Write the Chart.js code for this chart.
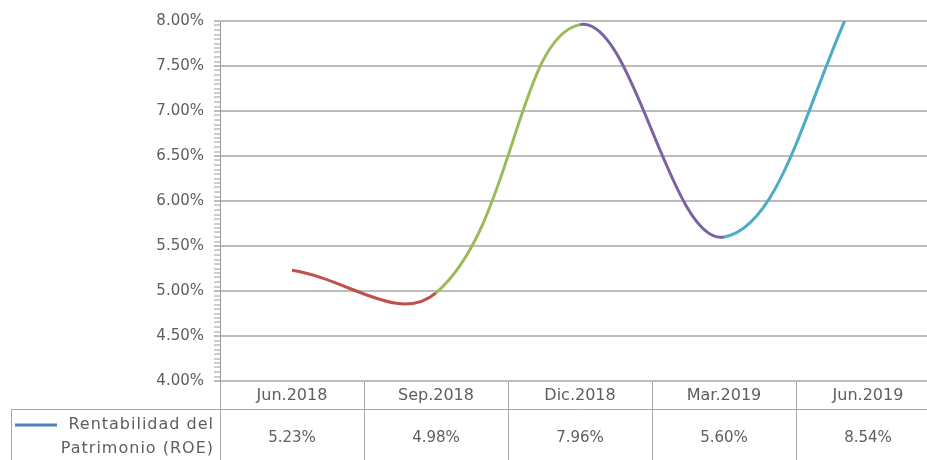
<!DOCTYPE html>
<html>
<head>
<meta charset="utf-8">
<script src="https://cdn.jsdelivr.net/npm/chart.js@4/dist/chart.umd.min.js"></script>
<style>
  html, body { margin: 0; padding: 0; background: #fff; overflow: hidden; }
  #wrap { position: relative; width: 940px; height: 460px; }
</style>
</head>
<body>
<div id="wrap"><canvas id="c"></canvas></div>
<script>
// ---- data ----
const categories = ['Jun.2018', 'Sep.2018', 'Dic.2018', 'Mar.2019', 'Jun.2019'];
const roeValues = [5.23, 4.98, 7.96, 5.60, 8.54];
const seriesLabel = ['Rentabilidad del', 'Patrimonio (ROE)'];
const yMin = 4.0;
const yMax = 8.0;
const yStep = 0.5;
const yMinorStep = 0.05;
const valueLabels = roeValues.map(v => v.toFixed(2) + '%');

// ---- styles ----
const segmentColors = ['#c0504d', '#9bbb59', '#7b62a3', '#4bacc6'];
const legendColor = '#4f81bd';
const textColor = '#5e5e5e';
const gridColor = '#bcbcbc';
const tableLine = '#a6a6a6';
const FONT = 'DejaVu Sans';

const isMajor = v => Math.abs(v / yStep - Math.round(v / yStep)) < 1e-6;

const legendCell = {
  id: 'legendCell',
  afterDraw(chart) {
    const ctx = chart.ctx;
    const ca = chart.chartArea;
    const x2 = chart.scales.x2;
    const top = x2.top;
    const bottom = chart.height;
    const left = 11;
    ctx.save();
    ctx.strokeStyle = tableLine;
    ctx.lineWidth = 1;
    ctx.beginPath();
    ctx.moveTo(left, top + 0.5);
    ctx.lineTo(ca.left, top + 0.5);
    ctx.moveTo(left + 0.5, top);
    ctx.lineTo(left + 0.5, bottom);
    ctx.stroke();
    // legend marker
    const rowMid = top + 16;
    ctx.strokeStyle = legendColor;
    ctx.lineWidth = 3;
    ctx.beginPath();
    ctx.moveTo(left + 4, rowMid);
    ctx.lineTo(left + 46, rowMid);
    ctx.stroke();
    ctx.fillStyle = textColor;
    ctx.font = '16px "' + FONT + '"';
    if ('letterSpacing' in ctx) ctx.letterSpacing = '1px';
    ctx.textAlign = 'right';
    ctx.textBaseline = 'middle';
    ctx.fillText(seriesLabel[0], ca.left - 6, rowMid);
    ctx.fillText(seriesLabel[1], ca.left - 6, rowMid + 24);
    ctx.restore();
  }
};

new Chart(document.getElementById('c'), {
  type: 'line',
  data: {
    labels: categories,
    datasets: [{
      label: seriesLabel.join(' '),
      data: roeValues,
      borderWidth: 3,
      pointRadius: 0,
      tension: 0.4,
      borderColor: segmentColors[0],
      segment: {
        borderColor: ctx => segmentColors[ctx.p0DataIndex]
      },
      xAxisID: 'x',
      yAxisID: 'y'
    }]
  },
  options: {
    responsive: true,
    maintainAspectRatio: false,
    animation: false,
    devicePixelRatio: 1,
    elements: { line: { capBezierPoints: false } },
    layout: { padding: { top: 21, right: 0, bottom: 0, left: 0 } },
    plugins: {
      legend: { display: false },
      tooltip: { enabled: false }
    },
    scales: {
      x: {
        type: 'category',
        position: 'bottom',
        offset: true,
        border: { display: false },
        grid: {
          offset: true,
          drawOnChartArea: false,
          drawTicks: true,
          tickLength: 79,
          color: tableLine,
          tickColor: tableLine,
          lineWidth: 1
        },
        ticks: {
          color: textColor,
          font: { family: FONT, size: 16 },
          padding: -74,
          maxRotation: 0,
          autoSkip: false
        },
        afterFit: s => { s.height = 28; }
      },
      x2: {
        type: 'category',
        position: 'bottom',
        labels: valueLabels,
        offset: true,
        border: { display: true, color: tableLine, width: 1 },
        grid: { display: false, drawTicks: false },
        ticks: {
          color: textColor,
          font: { family: FONT, size: 15 },
          padding: 20,
          maxRotation: 0,
          autoSkip: false
        },
        afterFit: s => { s.height = 51; }
      },
      y: {
        min: yMin,
        max: yMax,
        border: { display: true, color: '#9a9a9a', width: 1 },
        grid: {
          color: c => isMajor(c.tick.value) ? gridColor : 'rgba(0,0,0,0)',
          lineWidth: 2,
          tickColor: c => isMajor(c.tick.value) ? gridColor : '#9a9a9a',
          tickWidth: c => isMajor(c.tick.value) ? 2 : 1,
          tickLength: 6
        },
        ticks: {
          stepSize: yMinorStep,
          autoSkip: false,
          color: textColor,
          font: { family: FONT, size: 15 },
          padding: 10,
          callback: v => isMajor(v) ? Number(v).toFixed(2) + '%' : ''
        },
        afterFit: s => { s.width = 220; }
      }
    }
  },
  plugins: [legendCell]
});
</script>
</body>
</html>
